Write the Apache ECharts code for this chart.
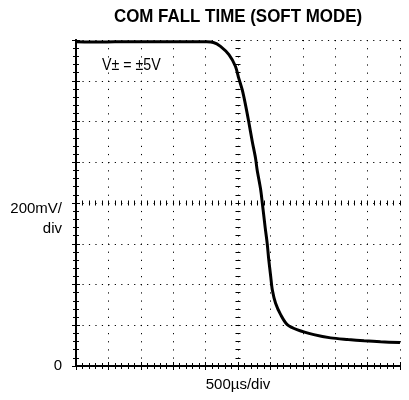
<!DOCTYPE html>
<html>
<head>
<meta charset="utf-8">
<script src="https://cdn.jsdelivr.net/npm/echarts@6/dist/echarts.min.js"></script>
<style>
html,body{margin:0;padding:0;background:#fff;}
#c{width:409px;height:400px;}
</style>
</head>
<body>
<div id="c"></div>
<script>
// Data (time in µs, voltage in mV)
const timeUs = [0, 400, 800, 1200, 1600, 2000, 2120, 2230, 2360, 2460, 2510, 2565, 2615, 2665, 2720, 2770, 2795, 2850, 2875, 2920, 2950, 2975, 3005, 3030, 3080, 3160, 3260, 3420, 3670, 3930, 4200, 4445, 4700, 5000];
const voltageMv = [1592, 1590, 1592, 1591, 1592, 1591, 1588, 1569, 1528, 1471, 1414, 1356, 1283, 1200, 1102, 1021, 963, 865, 800, 678, 603, 521, 439, 373, 308, 251, 203, 177, 154, 138, 130, 124, 119, 115];
const xMax = 5000, xDiv = 500;
const yMax = 1600, yDiv = 200;
const titleText = 'COM FALL TIME (SOFT MODE)';
const noteText = 'V\u00B1 = \u00B15V';
const xUnitText = '500\u00B5s/div';
const yUnitText = '200mV/\ndiv';
const yZeroText = '0';

const FONT = "'Liberation Sans Narrow','Arial Narrow','Liberation Sans',Arial,sans-serif";
const chart = echarts.init(document.getElementById('c'), null, {renderer: 'canvas'});
const series = timeUs.map((t, i) => [t, voltageMv[i]]);

const G = {left: 76, right: 9, top: 40, bottom: 34};
const gw = 409 - G.left - G.right, gh = 400 - G.top - G.bottom;

function borderX(pos) {
  return {
    type: 'value', min: 0, max: xMax, interval: xDiv, position: pos,
    axisLine: {show: true, lineStyle: {color: '#000', width: 2}},
    axisTick: {show: true, inside: true, length: 4, lineStyle: {color: '#000', width: 1}},
    minorTick: {show: true, splitNumber: 5, length: 3, lineStyle: {color: '#000', width: 1}},
    axisLabel: {show: false}, splitLine: {show: false}
  };
}
function borderY(pos) {
  return {
    type: 'value', min: 0, max: yMax, interval: yDiv, position: pos,
    axisLine: {show: true, lineStyle: {color: '#000', width: 2}},
    axisTick: {show: true, inside: true, length: 4, lineStyle: {color: '#000', width: 1}},
    minorTick: {show: true, splitNumber: 5, length: 3, lineStyle: {color: '#000', width: 1}},
    axisLabel: {show: false}, splitLine: {show: false}
  };
}
function txt(text, x, y, size, bold, align, sx, extra) {
  return {
    type: 'text', x: x, y: y, scaleX: sx, scaleY: 1,
    style: Object.assign({text: text, x: 0, y: 0, fill: '#000',
      font: (bold ? 'bold ' : '') + size + 'px ' + FONT,
      textAlign: align, textVerticalAlign: 'middle'}, extra || {})
  };
}

const option = {
  animation: false,
  backgroundColor: '#fff',
  grid: G,
  xAxis: [
    Object.assign(borderX('bottom'), {
      splitLine: {show: true, lineStyle: {color: '#000', width: 1, type: [1.2, 6.94]}}
    }),
    borderX('top'),
    {
      type: 'value', min: 0, max: xMax, interval: xDiv / 5, position: 'bottom', offset: -(gh / 2) + 2.5,
      axisLine: {show: false}, axisTick: {show: true, inside: true, length: 5, lineStyle: {color: '#000', width: 1}},
      axisLabel: {show: false}, splitLine: {show: false}
    }
  ],
  yAxis: [
    Object.assign(borderY('left'), {
      splitLine: {show: true, lineStyle: {color: '#000', width: 1, type: [1.2, 5.26]}}
    }),
    borderY('right'),
    {
      type: 'value', min: 0, max: yMax, interval: yDiv / 5, position: 'left', offset: -(gw / 2) + 2.5,
      axisLine: {show: false}, axisTick: {show: true, inside: true, length: 5, lineStyle: {color: '#000', width: 1}},
      axisLabel: {show: false}, splitLine: {show: false}
    }
  ],
  series: [{
    type: 'line', data: series, showSymbol: false, smooth: 0.3,
    lineStyle: {color: '#000', width: 3}, z: 5
  }],
  graphic: [
    txt(titleText, 238, 17, 18, true, 'center', 0.94),
    txt(noteText, 102, 66, 16, false, 'left', 0.89),
    txt(xUnitText, 238, 385, 15, false, 'center', 1),
    txt(yUnitText, 62, 219, 15, false, 'right', 1, {lineHeight: 20}),
    txt(yZeroText, 62, 366, 15, false, 'right', 1)
  ]
};
chart.setOption(option);
</script>
</body>
</html>
